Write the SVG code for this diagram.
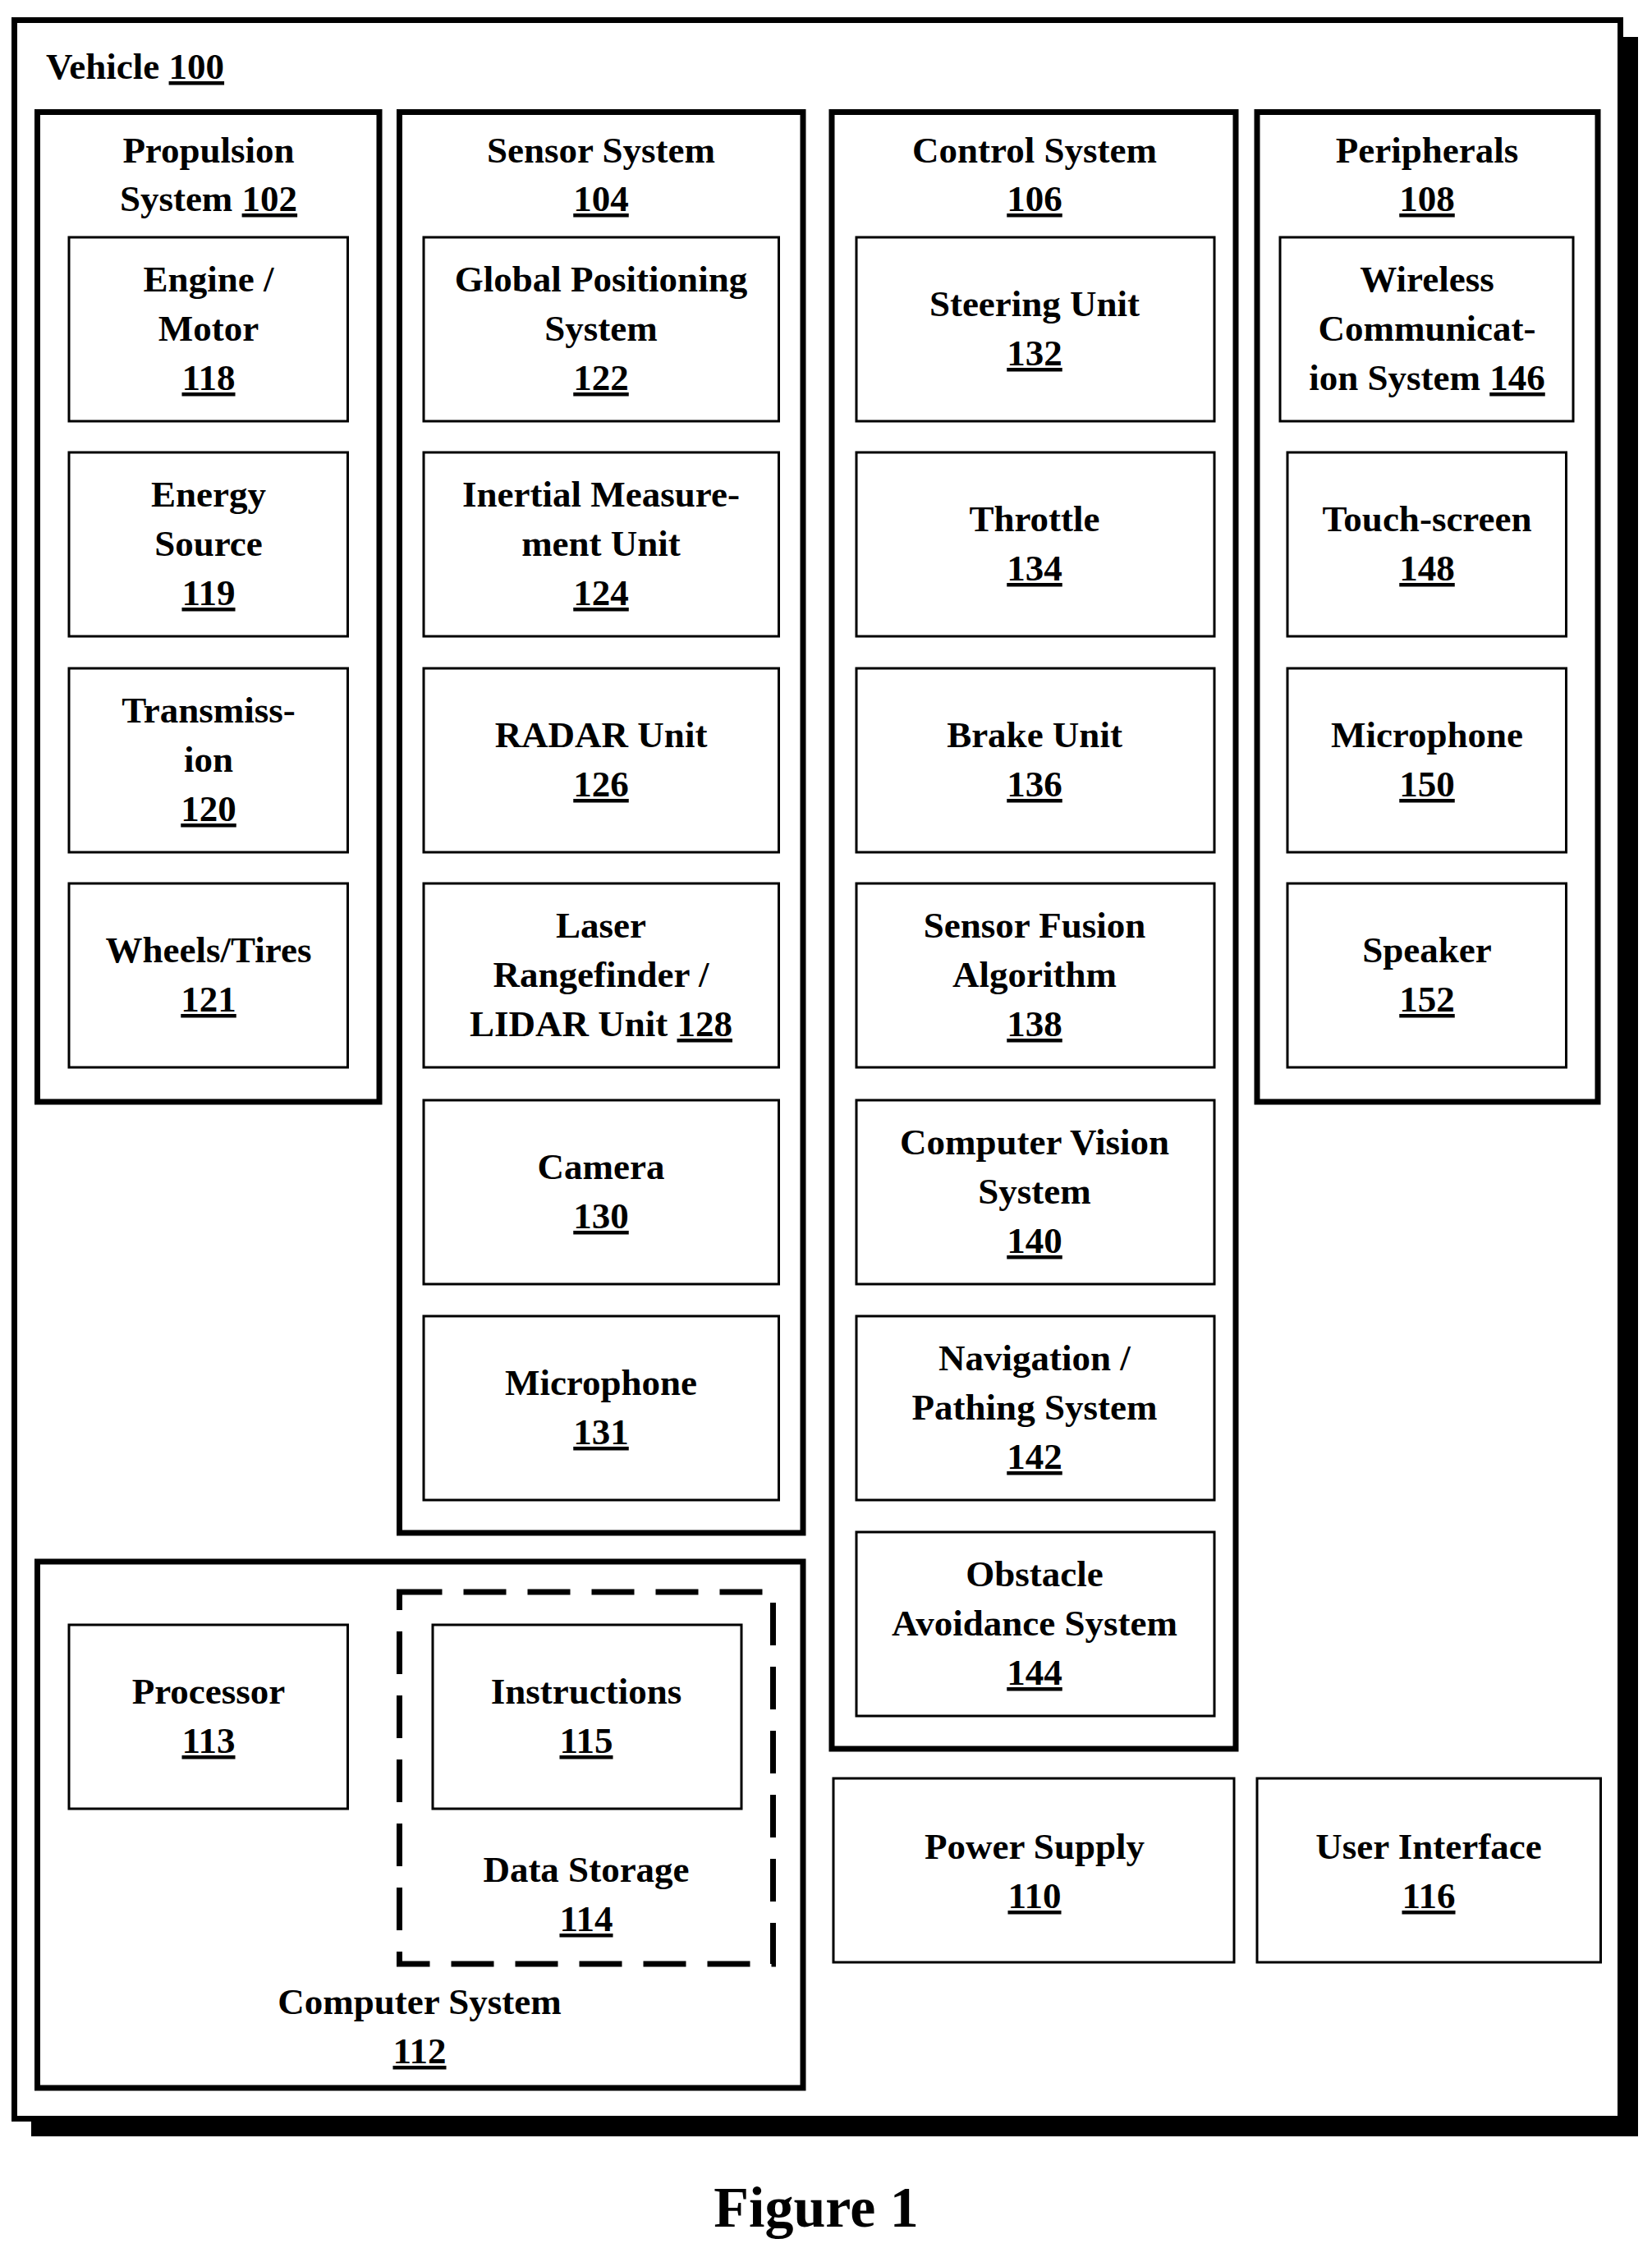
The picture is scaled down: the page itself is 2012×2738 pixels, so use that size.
<svg xmlns="http://www.w3.org/2000/svg" width="2012" height="2738" viewBox="0 0 2012 2738">
<style>
text{font-family:"Liberation Serif",serif;font-weight:bold;font-size:45px;fill:#000;text-anchor:middle}
.u{text-decoration:underline}
.g{fill:#fff;stroke:#000;stroke-width:7}
.b{fill:#fff;stroke:#000;stroke-width:3}
</style>
<rect width="2012" height="2738" fill="#fff"/>
<g id="vehicle">
<rect x="38" y="45" width="1957" height="2557" fill="#000"/>
<rect x="17.5" y="24.5" width="1956" height="2556" class="g"/>
<text x="56" y="96" style="text-anchor:start">Vehicle <tspan class="u">100</tspan></text>
</g>
<g id="propulsion">
<rect x="45.5" y="136.5" width="416.5" height="1205.5" class="g"/>
<text x="254" y="198">Propulsion</text><text x="254" y="257">System <tspan class="u">102</tspan></text>
</g>
<g id="n118"><rect x="84" y="289" width="339.5" height="224" class="b"/><text x="254" y="355">Engine /</text><text x="254" y="415">Motor</text><text x="254" y="475" class="u">118</text></g>
<g id="n119"><rect x="84" y="551" width="339.5" height="224" class="b"/><text x="254" y="617">Energy</text><text x="254" y="677">Source</text><text x="254" y="737" class="u">119</text></g>
<g id="n120"><rect x="84" y="814" width="339.5" height="224" class="b"/><text x="254" y="880">Transmiss-</text><text x="254" y="940">ion</text><text x="254" y="1000" class="u">120</text></g>
<g id="n121"><rect x="84" y="1076" width="339.5" height="224" class="b"/><text x="254" y="1172">Wheels/Tires</text><text x="254" y="1232" class="u">121</text></g>

<g id="sensor">
<rect x="486.5" y="136.5" width="491.5" height="1730.5" class="g"/>
<text x="732" y="198">Sensor System</text><text x="732" y="257" class="u">104</text>
</g>
<g id="n122"><rect x="516" y="289" width="432.5" height="224" class="b"/><text x="732" y="355">Global Positioning</text><text x="732" y="415">System</text><text x="732" y="475" class="u">122</text></g>
<g id="n124"><rect x="516" y="551" width="432.5" height="224" class="b"/><text x="732" y="617">Inertial Measure-</text><text x="732" y="677">ment Unit</text><text x="732" y="737" class="u">124</text></g>
<g id="n126"><rect x="516" y="814" width="432.5" height="224" class="b"/><text x="732" y="910">RADAR Unit</text><text x="732" y="970" class="u">126</text></g>
<g id="n128"><rect x="516" y="1076" width="432.5" height="224" class="b"/><text x="732" y="1142">Laser</text><text x="732" y="1202">Rangefinder /</text><text x="732" y="1262">LIDAR Unit <tspan class="u">128</tspan></text></g>
<g id="n130"><rect x="516" y="1340" width="432.5" height="224" class="b"/><text x="732" y="1436">Camera</text><text x="732" y="1496" class="u">130</text></g>
<g id="n131"><rect x="516" y="1603" width="432.5" height="224" class="b"/><text x="732" y="1699">Microphone</text><text x="732" y="1759" class="u">131</text></g>

<g id="control">
<rect x="1013" y="136.5" width="492" height="1993.5" class="g"/>
<text x="1260" y="198">Control System</text><text x="1260" y="257" class="u">106</text>
</g>
<g id="n132"><rect x="1043" y="289" width="436" height="224" class="b"/><text x="1260" y="385">Steering Unit</text><text x="1260" y="445" class="u">132</text></g>
<g id="n134"><rect x="1043" y="551" width="436" height="224" class="b"/><text x="1260" y="647">Throttle</text><text x="1260" y="707" class="u">134</text></g>
<g id="n136"><rect x="1043" y="814" width="436" height="224" class="b"/><text x="1260" y="910">Brake Unit</text><text x="1260" y="970" class="u">136</text></g>
<g id="n138"><rect x="1043" y="1076" width="436" height="224" class="b"/><text x="1260" y="1142">Sensor Fusion</text><text x="1260" y="1202">Algorithm</text><text x="1260" y="1262" class="u">138</text></g>
<g id="n140"><rect x="1043" y="1340" width="436" height="224" class="b"/><text x="1260" y="1406">Computer Vision</text><text x="1260" y="1466">System</text><text x="1260" y="1526" class="u">140</text></g>
<g id="n142"><rect x="1043" y="1603" width="436" height="224" class="b"/><text x="1260" y="1669">Navigation /</text><text x="1260" y="1729">Pathing System</text><text x="1260" y="1789" class="u">142</text></g>
<g id="n144"><rect x="1043" y="1866" width="436" height="224" class="b"/><text x="1260" y="1932">Obstacle</text><text x="1260" y="1992">Avoidance System</text><text x="1260" y="2052" class="u">144</text></g>

<g id="peripherals">
<rect x="1531" y="136.5" width="415" height="1205.5" class="g"/>
<text x="1738" y="198">Peripherals</text><text x="1738" y="257" class="u">108</text>
</g>
<g id="n146"><rect x="1559" y="289" width="357" height="224" class="b"/><text x="1738" y="355">Wireless</text><text x="1738" y="415">Communicat-</text><text x="1738" y="475">ion System <tspan class="u">146</tspan></text></g>
<g id="n148"><rect x="1568" y="551" width="339.5" height="224" class="b"/><text x="1738" y="647">Touch-screen</text><text x="1738" y="707" class="u">148</text></g>
<g id="n150"><rect x="1568" y="814" width="339.5" height="224" class="b"/><text x="1738" y="910">Microphone</text><text x="1738" y="970" class="u">150</text></g>
<g id="n152"><rect x="1568" y="1076" width="339.5" height="224" class="b"/><text x="1738" y="1172">Speaker</text><text x="1738" y="1232" class="u">152</text></g>

<g id="computer">
<rect x="45.5" y="1902" width="932.5" height="641" class="g"/>
<text x="511" y="2453">Computer System</text><text x="511" y="2513" class="u">112</text>
</g>
<g id="n113"><rect x="84" y="1979" width="339.5" height="224" class="b"/><text x="254" y="2075">Processor</text><text x="254" y="2135" class="u">113</text></g>
<g id="n114">
<rect x="486.5" y="1939" width="455" height="453" fill="none" stroke="#000" stroke-width="7" stroke-dasharray="52 26"/>
<text x="714" y="2292">Data Storage</text><text x="714" y="2352" class="u">114</text>
</g>
<g id="n115"><rect x="527" y="1979" width="376" height="224" class="b"/><text x="714" y="2075">Instructions</text><text x="714" y="2135" class="u">115</text></g>

<g id="n110"><rect x="1015" y="2166" width="488" height="224" class="b"/><text x="1260" y="2264">Power Supply</text><text x="1260" y="2324" class="u">110</text></g>
<g id="n116"><rect x="1531" y="2166" width="418.5" height="224" class="b"/><text x="1740" y="2264">User Interface</text><text x="1740" y="2324" class="u">116</text></g>
<g id="connectors"></g>
<text x="994" y="2712" style="font-size:70px">Figure 1</text>
</svg>
